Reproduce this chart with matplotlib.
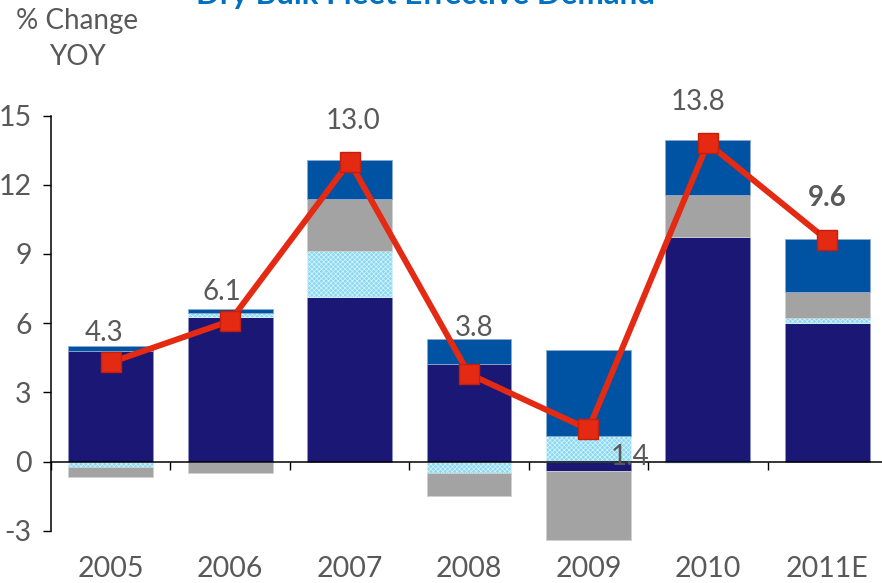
import numpy as np
import matplotlib
matplotlib.use('Agg')
import matplotlib.pyplot as plt

# ---------------- data ----------------
categories = ['2005', '2006', '2007', '2008', '2009', '2010', '2011E']
navy_vals = [4.8, 6.25, 7.13, 4.23, -0.39, 9.75, 6.03]
lightblue_vals = [-0.25, 0.19, 2.02, -0.5, 1.13, -0.05, 0.19]
gray_vals = [-0.4, -0.47, 2.22, -0.97, -2.99, 1.81, 1.13]
blue_vals = [0.2, 0.17, 1.69, 1.09, 3.7, 2.39, 2.29]
total_vals = [4.3, 6.1, 13.0, 3.8, 1.4, 13.8, 9.6]
total_labels = ['4.3', '6.1', '13.0', '3.8', '1.4', '13.8', '9.6']
yticks = [-3, 0, 3, 6, 9, 12, 15]

# label placement offsets (styling, not data)
label_dx = [-0.06, -0.07, 0.03, 0.04, 0.35, -0.08, 0.0]
label_dy = [1.28, 1.26, 1.76, 2.0, -1.2, 1.78, 1.83]
label_bold = [False, False, False, False, False, False, True]

plt.rcParams['font.family'] = ['Lato', 'DejaVu Sans']
plt.rcParams['hatch.linewidth'] = 0.5
plt.rcParams['axes.unicode_minus'] = False

TXT = '#595959'
fig = plt.figure(figsize=(8.82, 5.83), dpi=100)
ax = fig.add_axes([51 / 882, 52.1 / 583, 836 / 882, (530.9 - 115.5) / 583])

x = np.arange(len(categories))
width = 0.71
series = [
    (navy_vals, dict(color='#1A1874', edgecolor='#8C93C0', linewidth=0.6)),
    (lightblue_vals, dict(color='#8BD8F1', edgecolor='#D8F4FC', linewidth=0.6, hatch='xxxxxxx')),
    (gray_vals, dict(color='#A3A3A3', edgecolor='#D0D0D0', linewidth=0.6)),
    (blue_vals, dict(color='#0052A3', edgecolor='#8CAAD0', linewidth=0.6)),
]
pos_base = np.zeros(len(categories))
neg_base = np.zeros(len(categories))
for vals, style in series:
    v = np.array(vals, dtype=float)
    bottoms = np.where(v >= 0, pos_base, neg_base)
    ax.bar(x, v, width=width, bottom=bottoms, zorder=2, clip_on=False, **style)
    pos_base = pos_base + np.where(v >= 0, v, 0)
    neg_base = neg_base + np.where(v < 0, v, 0)

ax.plot(x, total_vals, color='#E42A12', lw=4.3, marker='s', ms=14,
        mfc='#E42A12', mec='#C41F0A', mew=1, zorder=5, clip_on=False)

for i, (val, lab) in enumerate(zip(total_vals, total_labels)):
    ax.text(x[i] + label_dx[i], val + label_dy[i], lab, ha='center', va='center',
            fontsize=20, color=TXT, fontweight='bold' if label_bold[i] else 'normal',
            zorder=6)

ax.set_xlim(-0.5, len(categories) - 0.5)
ax.set_ylim(-3, 15)
ax.set_yticks(yticks)
ax.tick_params(axis='y', direction='out', length=6, width=1, colors='black',
               labelcolor=TXT, labelsize=20.5, pad=8)

ax.spines['top'].set_visible(False)
ax.spines['right'].set_visible(False)
ax.spines['left'].set_linewidth(1.1)
ax.spines['bottom'].set_position(('data', 0))
ax.spines['bottom'].set_linewidth(1.1)
ax.spines['bottom'].set_zorder(4)
ax.set_xticks(np.arange(-0.5, len(categories), 1.0))
ax.set_xticklabels([])
ax.tick_params(axis='x', direction='out', length=6, width=1)

sec = ax.secondary_xaxis(0.0)
sec.set_xticks(x, labels=categories)
sec.tick_params(length=0, pad=18, labelsize=20.5, labelcolor=TXT)
sec.spines['bottom'].set_visible(False)

fig.text(77 / 882, 1 - 39 / 583, '% Change\nYOY', ha='center', va='center',
         fontsize=20, color=TXT, multialignment='center', linespacing=1.45)
fig.text(425 / 882, 1 - 4 / 583, 'Dry Bulk Fleet Effective Demand', ha='center',
         va='baseline', fontsize=22.5, fontweight='bold', color='#0070C0')

fig.savefig('out.png', dpi=100)
